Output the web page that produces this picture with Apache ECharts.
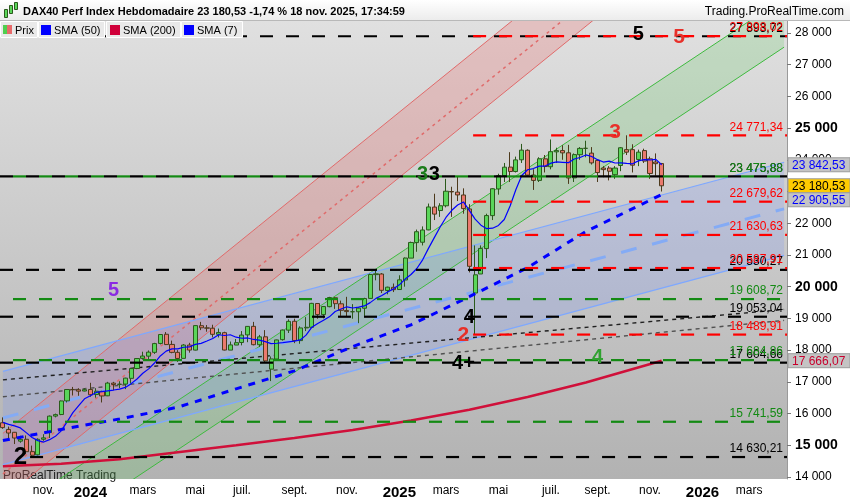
<!DOCTYPE html>
<html><head><meta charset="utf-8">
<script src="https://cdn.jsdelivr.net/npm/echarts@6/dist/echarts.min.js"></script>
<style>html,body{margin:0;padding:0;background:#fff}#c{width:850px;height:500px}</style>
</head><body><div id="c"></div><script>
// ---------- DATA ----------
const weeks = ['2023-09-18','2023-09-25','2023-10-02','2023-10-09','2023-10-16','2023-10-23','2023-10-30','2023-11-06','2023-11-13','2023-11-20','2023-11-27','2023-12-04','2023-12-11','2023-12-18','2023-12-25',
'2024-01-01','2024-01-08','2024-01-15','2024-01-22','2024-01-29','2024-02-05','2024-02-12','2024-02-19','2024-02-26','2024-03-04','2024-03-11','2024-03-18','2024-03-25','2024-04-01','2024-04-08','2024-04-15','2024-04-22','2024-04-29','2024-05-06','2024-05-13','2024-05-20','2024-05-27','2024-06-03','2024-06-10','2024-06-17','2024-06-24','2024-07-01','2024-07-08','2024-07-15','2024-07-22','2024-07-29','2024-08-05','2024-08-12','2024-08-19','2024-08-26','2024-09-02','2024-09-09','2024-09-16','2024-09-23','2024-09-30','2024-10-07','2024-10-14','2024-10-21','2024-10-28','2024-11-04','2024-11-11','2024-11-18','2024-11-25','2024-12-02','2024-12-09','2024-12-16','2024-12-23','2024-12-30',
'2025-01-06','2025-01-13','2025-01-20','2025-01-27','2025-02-03','2025-02-10','2025-02-17','2025-02-24','2025-03-03','2025-03-10','2025-03-17','2025-03-24','2025-03-31','2025-04-07','2025-04-14','2025-04-21','2025-04-28','2025-05-05','2025-05-12','2025-05-19','2025-05-26','2025-06-02','2025-06-09','2025-06-16','2025-06-23','2025-06-30','2025-07-07','2025-07-14','2025-07-21','2025-07-28','2025-08-04','2025-08-11','2025-08-18','2025-08-25','2025-09-01','2025-09-08','2025-09-15','2025-09-22','2025-09-29','2025-10-06','2025-10-13','2025-10-20','2025-10-27','2025-11-03','2025-11-10','2025-11-17',
'2025-11-24','2025-12-01','2025-12-08','2025-12-15','2025-12-22','2025-12-29','2026-01-05','2026-01-12','2026-01-19','2026-01-26','2026-02-02','2026-02-09','2026-02-16','2026-02-23','2026-03-02','2026-03-09','2026-03-16','2026-03-23','2026-03-30','2026-04-06','2026-04-13'];

// weekly candles: [open, close, low, high]
const ohlc = [
[15710,15557,15520,15880],[15500,15387,15140,15590],[15410,15229,15040,15420],[15130,15187,15080,15300],[15190,14798,14720,15310],
[14800,14687,14630,14990],[14700,15189,14680,15220],[15190,15234,15140,15350],[15400,15919,15230,15940],[15920,15967,15880,16000],
[15970,16398,15950,16410],[16400,16759,16350,16770],[16760,16751,16570,16840],[16750,16706,16560,16800],[16710,16752,16700,16800],
[16760,16594,16530,16970],[16600,16705,16500,16800],[16700,16555,16350,16720],[16560,16961,16550,17000],[16960,16918,16740,17000],
[16920,16927,16800,17020],[16930,17117,16770,17130],[17110,17419,16950,17440],[17420,17735,17400,17740],[17740,17814,17700,17950],
[17810,17936,17720,17990],[17930,18206,17880,18230],[18210,18492,18180,18500],[18500,18175,18160,18570],[18180,17930,17900,18300],
[17930,17737,17630,18000],[17740,18161,17740,18190],[18160,18001,17920,18230],[18000,18773,17990,18780],[18770,18704,18630,18890],
[18700,18693,18580,18790],[18690,18498,18400,18800],[18500,18557,18400,18680],[18550,18002,17990,18580],[18000,18164,18000,18270],
[18160,18235,18160,18350],[18240,18475,18150,18600],[18480,18748,18250,18760],[18750,18171,18150,18890],[18170,18418,18100,18480],
[18420,17661,17600,18630],[17400,17723,17024,17800],[17720,18322,17700,18330],[18330,18633,18300,18650],[18630,18907,18540,18970],
[18910,18301,18220,18990],[18300,18699,18200,18750],[18700,18720,18600,19040],[18720,19474,18710,19490],[19470,19121,18990,19480],
[19120,19374,19000,19390],[19370,19657,19350,19680],[19650,19464,19300,19670],[19460,19255,19080,19560],[19250,19215,19060,19680],
[19210,19211,18990,19450],[19210,19323,18850,19350],[19320,19626,19080,19650],[19630,20385,19630,20410],[20380,20405,20200,20520],
[20400,19885,19800,20430],[19880,19984,19760,20000],[19980,19906,19830,20100],[19910,20215,19900,20360],[20210,20903,20000,20920],
[20900,21394,20900,21420],[21390,21732,21100,21800],[21400,21787,21300,21900],[21790,22513,21780,22620],[22510,22287,22100,22930],
[22400,22551,22200,22630],[22550,23009,22500,23400],[23000,22987,22200,23150],[22980,22892,22700,23476],[22890,22461,22300,23100],
[22450,20642,20450,22600],[19800,20374,18490,21300],[20400,21206,20400,21300],[21200,22242,20900,22300],[22240,23087,22100,23100],
[23080,23499,22900,23560],[23500,23767,23300,23900],[23770,23630,23300,24240],[23630,23997,23600,24100],[24000,24304,23900,24500],
[24300,23516,23500,24330],[23520,23350,23050,23700],[23350,24033,23300,24080],[24030,23787,23600,24150],[23780,24255,23700,24640],
[24250,24290,23900,24380],[24290,24218,24000,24460],[24220,23426,23240,24470],[23430,24163,23300,24200],[24160,24359,24000,24400],
[24360,24363,24080,24600],[24210,23902,23850,24400],[23980,23597,23300,24000],[23740,23690,23450,23800],[23740,23639,23350,23800],
[23530,23739,23400,23800],[23820,24379,23640,24400],[24320,24241,24150,24771],[24320,23830,23600,24490],[24010,24240,23800,24320],
[24290,23958,23900,24350],[24030,23569,23400,24100],[23930,23877,23500,24200],[23880,23180,23000,23900]];

const sma7 = [15724,15660,15611,15548,15399,15248,15148,15102,15178,15283,
15456,15736,16031,16248,16465,16561,16666,16689,16718,16742,
16773,16825,16943,17090,17270,17409,17593,17817,17968,18041,
18041,18091,18100,18181,18212,18286,18367,18484,18461,18484,
18408,18375,18383,18336,18316,18267,18204,18217,18239,18262,
18281,18321,18472,18722,18836,18942,19049,19216,19295,19366,
19328,19357,19393,19497,19631,19721,19831,19931,20058,20240,
20385,20574,20846,21207,21547,21881,22182,22409,22575,22671,
22404,22131,21939,21829,21843,21930,22117,22544,23061,23504,
23686,23723,23800,23802,23892,23934,23921,23908,24025,24071,
24153,24103,24004,23929,23959,23898,23901,23884,23874,23965,
24004,23994,24013,23842];
const sma50 = [[0,15150],[10,15500],[20,15830],[30,16200],[40,16780],[50,17347],[60,18111],[70,18798],[80,19684],[90,20601],[100,21739],[113,22905]];
const sma200 = [[0,14340],[10,14420],[20,14560],[30,14780],[40,15000],[50,15230],[60,15480],[70,15780],[80,16120],[90,16520],[100,16980],[113,17666]];

// horizontal levels
const levelValues = [27893.72,27898.02,24771.34,23475.88,23475.88,22679.62,21630.63,20530.27,20587.91,19608.72,19053.04,18489.91,17604.66,17684.86,15741.59,14630.21];
const levelStart  = [0,81,81,0,0,81,81,0,81,0,0,81,0,0,0,5];
const levelKind   = ['k','r','r','k','g','r','r','k','r','g','k','r','k','g','g','k'];
const levelText   = ['27 893,72','27 898,02','24 771,34','23 475,88','23 475,88','22 679,62','21 630,63','20 530,27','20 587,91','19 608,72','19 053,04','18 489,91','17 604,66','17 684,86','15 741,59','14 630,21'];

// channel lines: [i1, v1, i2, v2]
const redLeft   = [0,15375,110,31754];
const redMid    = [0,14094,110,30473];
const redRight  = [0,13320,110,29699];
const greenUp   = [0,12752,134,29100];
const greenLow  = [0,11202,134,27550];
const blueUp    = [0,17330,134,23923];
const blueMid   = [0,15861,134,22454];
const blueLow   = [0,14392,134,20985];
const dotA      = [0,17063,134,19281];
const dotB      = [0,16531,134,18937];

// wave counts
const waveText = ['2','5','3','3','4','2','4+','4','3','5','5'];
const wavePos  = [[2.7,14630],[19,19875],[72,23531],[74.1,23531],[79.8,19031],[79,18469],[78.6,17594],[101.9,17781],[104.8,24875],[108.7,27937],[115.8,27875]];
const waveKind = ['kb','p','g','k','k','r','k','g2','r','k','r'];

// right-axis tags
const tagValues = [23842.53,23180.53,22905.55,17666.07];
const tagText   = ['23 842,53','23 180,53','22 905,55','17 666,07'];
const tagKind   = ['sma','last','sma','sma200'];

const monthNames = {3:'mars',5:'mai',7:'juil.',9:'sept.',11:'nov.'};
const yTicks = [14000,15000,16000,17000,18000,19000,20000,21000,22000,23000,24000,25000,26000,27000,28000];

// ---------- STYLE ----------
const FONT = '"Liberation Sans", Arial, sans-serif';
const KIND_COLOR = {k:'#000000', r:'#ff0000', g:'#138a13'};
const DASH_OFF = {k:0, r:0, g:13};
const WAVE_STYLE = {
  kb:{c:'#000',s:24}, k:{c:'#000',s:20}, p:{c:'#8a2be2',s:20}, g:{c:'#1b7d1b',s:20},
  g2:{c:'#2fa12f',s:20}, r:{c:'#e8302a',s:21}
};
const TAG_STYLE = {
  sma:{bg:'#c4c4c4', fg:'#0000ff'}, last:{bg:'#ffcc00', fg:'#000'}, sma200:{bg:'#c4c4c4', fg:'#c8002d'}
};

const fmt = v => String(v).replace(/\B(?=(\d{3})+(?!\d))/g,' ');

const chart = echarts.init(document.getElementById('c'), null, {renderer:'canvas'});

const option = {
  animation:false,
  backgroundColor:'#ffffff',
  textStyle:{fontFamily:FONT},
  grid:{left:0,right:63,top:20,bottom:17,show:true,borderWidth:0,
    backgroundColor:new echarts.graphic.LinearGradient(0,0,0,1,[{offset:0,color:'#e0e0e0'},{offset:1,color:'#b2b2b2'}])},
  xAxis:{type:'category',data:weeks,boundaryGap:true,
    axisLine:{show:false},axisTick:{show:false},splitLine:{show:false},
    axisLabel:{margin:6,color:'#000',fontSize:12,fontFamily:FONT,
      interval:(i,v)=>{const m=+v.slice(5,7),d=+v.slice(8,10);return m%2===1&&d<=7;},
      formatter:(v)=>{const m=+v.slice(5,7);return m===1?'{y|'+v.slice(0,4)+'}':monthNames[m];},
      rich:{y:{fontWeight:'bold',fontSize:15,fontFamily:FONT,color:'#000'}}}},
  yAxis:{type:'value',position:'right',min:13937.5,max:28406.25,scale:true,
    axisLine:{show:true,lineStyle:{color:'#9a9a9a'}},
    axisTick:{show:true,length:4,lineStyle:{color:'#777'},customValues:yTicks},
    splitLine:{show:false},
    axisLabel:{margin:8,color:'#000',fontSize:12,fontFamily:FONT,customValues:yTicks,
      formatter:v=>v%5000===0?'{b|'+fmt(v)+'}':fmt(v),
      rich:{b:{fontWeight:'bold',fontSize:14,fontFamily:FONT,color:'#000'}}}},
  series:[
    // channel fills
    {type:'custom',z:1,clip:true,silent:true,
     data:[[0,0],[1,0],[2,0]],
     renderItem:(params,api)=>{
       const pairs=[[redLeft,redRight,'rgba(235,110,110,0.28)'],[greenUp,greenLow,'rgba(90,200,90,0.22)'],[blueUp,blueLow,'rgba(110,140,255,0.20)']];
       const [a,b,col]=pairs[params.dataIndex];
       const pts=[api.coord([a[0],a[1]]),api.coord([a[2],a[3]]),api.coord([b[2],b[3]]),api.coord([b[0],b[1]])];
       return {type:'polygon',shape:{points:pts},style:{fill:col}};
     }},
    // channel lines
    {type:'custom',z:2,clip:true,silent:true,
     data:[[0,0],[1,0],[2,0],[3,0],[4,0],[5,0],[6,0],[7,0],[8,0],[9,0]],
     renderItem:(params,api)=>{
       const L=[[redLeft,'#e06a6a',1,null],[redMid,'#e06a6a',1.5,[3,4]],[redRight,'#e06a6a',1,null],
                [greenUp,'#3fba3f',1,null],[greenLow,'#3fba3f',1,null],
                [blueUp,'#7ea8ff',1.2,null],[blueMid,'#84abf5',3,[16,16]],[blueLow,'#7ea8ff',1.2,null],
                [dotA,'#202020',1.4,[4,4]],[dotB,'#505050',1.4,[4,4]]];
       const [a,col,w,dash]=L[params.dataIndex];
       const p1=api.coord([a[0],a[1]]),p2=api.coord([a[2],a[3]]);
       return {type:'line',shape:{x1:p1[0],y1:p1[1],x2:p2[0],y2:p2[1]},style:{stroke:col,lineWidth:w,lineDash:dash}};
     }},
    // candles
    {type:'candlestick',name:'Prix',z:3,data:ohlc,barWidth:4.6,
     itemStyle:{color:'#5ad65a',color0:'#ea7a6e',borderColor:'#2b5a1c',borderColor0:'#4d3a1c',borderWidth:1}},
    // SMAs
    {type:'line',name:'SMA (200)',z:4,data:sma200,symbol:'none',lineStyle:{color:'#d0103a',width:2.5}},
    {type:'line',name:'SMA (50)',z:4,data:sma50,symbol:'none',lineStyle:{color:'#0000ff',width:3,type:[7,7]}},
    {type:'line',name:'SMA (7)',z:4,data:sma7,symbol:'none',lineStyle:{color:'#0000ff',width:1.2}},
    // levels
    {type:'custom',z:5,clip:false,silent:true,
     data:levelValues.map((v,i)=>[levelStart[i],v]),encode:{x:0,y:1},
     renderItem:(params,api)=>{
       const k=params.dataIndex,cs=params.coordSys;
       const p=api.coord([api.value(0),api.value(1)]);
       const xs=levelStart[k]===0?cs.x:p[0]-2;
       const xe=cs.x+cs.width;
       const col=KIND_COLOR[levelKind[k]];
       const ch=[{type:'line',shape:{x1:xs,y1:p[1],x2:xe,y2:p[1]},
         style:{stroke:col,lineWidth:2.2,lineDash:[13,13],lineDashOffset:DASH_OFF[levelKind[k]]}}];
       if(levelText[k]) ch.push({type:'text',style:{text:levelText[k],x:xe-4,y:p[1]-2,align:'right',verticalAlign:'bottom',fill:col,fontSize:12,fontFamily:FONT}});
       return {type:'group',children:ch};
     }},
    // wave labels
    {type:'custom',z:6,clip:false,silent:true,
     data:wavePos,encode:{x:0,y:1},
     renderItem:(params,api)=>{
       const k=params.dataIndex,st=WAVE_STYLE[waveKind[k]];
       const p=api.coord([api.value(0),api.value(1)]);
       return {type:'text',style:{text:waveText[k],x:p[0],y:p[1],align:'center',verticalAlign:'middle',fill:st.c,fontSize:st.s,fontWeight:'bold',fontFamily:FONT}};
     }},
    // right tags
    {type:'custom',z:7,clip:false,silent:true,
     data:tagValues.map(v=>[113,v]),encode:{x:0,y:1},
     renderItem:(params,api)=>{
       const k=params.dataIndex,cs=params.coordSys;
       let ys=tagValues.map(v=>api.coord([113,v])[1]);
       for(let j=1;j<ys.length;j++){ if(ys[j]<ys[j-1]+14) ys[j]=ys[j-1]+14; }
       const y=ys[k],x=cs.x+cs.width+1,st=TAG_STYLE[tagKind[k]];
       return {type:'group',children:[
         {type:'rect',shape:{x:x,y:y-7,width:62,height:14},style:{fill:st.bg,stroke:'#9c9c9c',lineWidth:1}},
         {type:'text',style:{text:tagText[k],x:x+4,y:y+0.5,align:'left',verticalAlign:'middle',fill:st.fg,fontSize:12,fontFamily:FONT}}
       ]};
     }}
  ],
  graphic:[
    {type:'rect',left:0,top:0,shape:{width:850,height:20},style:{fill:new echarts.graphic.LinearGradient(0,0,0,1,[{offset:0,color:'#ffffff'},{offset:1,color:'#ececec'}])},z:10},
    {type:'line',shape:{x1:0,y1:20.5,x2:850,y2:20.5},style:{stroke:'#b8b8b8',lineWidth:1},z:10},
    {type:'rect',left:4,top:9,shape:{width:3,height:8},style:{fill:'#5ad65a',stroke:'#2b5a1c'},z:11},
    {type:'rect',left:9,top:5,shape:{width:3,height:8},style:{fill:'#5ad65a',stroke:'#2b5a1c'},z:11},
    {type:'rect',left:14,top:2,shape:{width:3,height:7},style:{fill:'#5ad65a',stroke:'#2b5a1c'},z:11},
    {type:'text',left:23,top:6,style:{text:'DAX40 Perf Index Hebdomadaire 23 180,53 -1,74 % 18 nov. 2025, 17:34:59',fill:'#000',fontSize:11,fontWeight:'bold',fontFamily:FONT},z:11},
    {type:'text',right:6,top:6,style:{text:'Trading.ProRealTime.com',fill:'#000',fontSize:12,fontFamily:FONT},z:11},
    // legend boxes
    {type:'rect',left:0,top:21,shape:{width:37,height:16},style:{fill:'#e9e9e9',stroke:'#ffffff'},z:10},
    {type:'rect',left:3,top:25,shape:{width:4,height:9},style:{fill:'#4fcf4f'},z:11},
    {type:'rect',left:7,top:25,shape:{width:5,height:9},style:{fill:'#e86a6a'},z:11},
    {type:'text',left:15,top:25,style:{text:'Prix',fill:'#000',fontSize:11,fontFamily:FONT},z:11},
    {type:'rect',left:38,top:21,shape:{width:66,height:16},style:{fill:'#e9e9e9',stroke:'#ffffff'},z:10},
    {type:'rect',left:41,top:25,shape:{width:10,height:10},style:{fill:'#0000ff'},z:11},
    {type:'text',left:54,top:25,style:{text:'SMA (50)',fill:'#000',fontSize:11,fontFamily:FONT},z:11},
    {type:'rect',left:106,top:21,shape:{width:74,height:16},style:{fill:'#e9e9e9',stroke:'#ffffff'},z:10},
    {type:'rect',left:110,top:25,shape:{width:10,height:10},style:{fill:'#d0003a'},z:11},
    {type:'text',left:123,top:25,style:{text:'SMA (200)',fill:'#000',fontSize:11,fontFamily:FONT},z:11},
    {type:'rect',left:181,top:21,shape:{width:61,height:16},style:{fill:'#e9e9e9',stroke:'#ffffff'},z:10},
    {type:'rect',left:184,top:25,shape:{width:10,height:10},style:{fill:'#0000ff'},z:11},
    {type:'text',left:197,top:25,style:{text:'SMA (7)',fill:'#000',fontSize:11,fontFamily:FONT},z:11},
    {type:'text',left:3,top:470,style:{text:'ProRealTime Trading',fill:'#222',fontSize:12,fontFamily:FONT},z:1}
  ]
};
chart.setOption(option);
</script></body></html>
